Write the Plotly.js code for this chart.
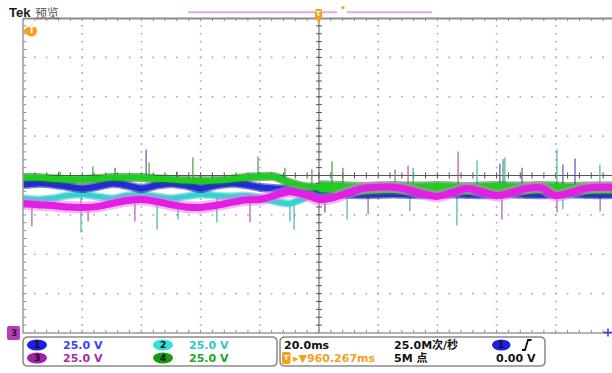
<!DOCTYPE html>
<html>
<head>
<meta charset="utf-8">
<script src="https://cdn.plot.ly/plotly-3.0.1.min.js"></script>
<style>
html,body{margin:0;padding:0;background:#fff;overflow:hidden}
#scope{width:612px;height:373px}
</style>
</head>
<body>
<div id="scope"></div>
<script>
// Acquisition: 20 ms/div horizontally, all channels at 25 V/div.
// Trace levels are given in screen divisions (centre = 0).
const timeMs = [-100,-95,-90,-85,-80,-75,-70,-65,-60,-55,-50,-45,-40,-35,-30,-25,-20,-15,-10,-5,
                0,5,10,15,20,25,30,35,40,45,50,55,60,65,70,75,80,85,90,95,99];

const ch1Div = [-0.23,-0.20,-0.22,-0.28,-0.33,-0.28,-0.20,-0.25,-0.33,-0.25,-0.20,-0.25,-0.33,-0.25,-0.20,-0.23,-0.30,-0.33,-0.36,-0.43,
                -0.48,-0.47,-0.48,-0.49,-0.48,-0.47,-0.48,-0.49,-0.48,-0.47,-0.48,-0.49,-0.48,-0.47,-0.48,-0.49,-0.48,-0.47,-0.48,-0.49,-0.48];

const ch2Div = [-0.58,-0.61,-0.58,-0.51,-0.48,-0.53,-0.58,-0.51,-0.48,-0.53,-0.58,-0.53,-0.48,-0.51,-0.53,-0.51,-0.56,-0.66,-0.71,-0.58,
                -0.41,-0.43,-0.43,-0.42,-0.43,-0.43,-0.42,-0.43,-0.43,-0.42,-0.43,-0.43,-0.42,-0.43,-0.43,-0.42,-0.43,-0.43,-0.42,-0.43,-0.43];

const ch3Div = [-0.71,-0.74,-0.76,-0.80,-0.81,-0.79,-0.71,-0.64,-0.61,-0.66,-0.74,-0.80,-0.81,-0.76,-0.69,-0.62,-0.61,-0.51,-0.41,-0.48,
                -0.61,-0.56,-0.43,-0.33,-0.30,-0.30,-0.36,-0.46,-0.53,-0.43,-0.33,-0.41,-0.51,-0.43,-0.33,-0.31,-0.51,-0.43,-0.33,-0.30,-0.30];

const ch4Div = [-0.05,-0.05,-0.08,-0.10,-0.10,-0.08,-0.05,-0.05,-0.05,-0.08,-0.10,-0.13,-0.13,-0.13,-0.10,-0.05,-0.03,-0.03,-0.18,-0.28,
                -0.30,-0.31,-0.33,-0.34,-0.33,-0.32,-0.33,-0.33,-0.32,-0.33,-0.34,-0.33,-0.32,-0.33,-0.33,-0.32,-0.33,-0.34,-0.33,-0.33,-0.33];

// Glitches riding on the traces: time, start level, end level, channel
const spikeMs   = [-58.4,-57.4,-76.4,-68.9,-42.6,-20.6,-2.4,-48.0,4.4,8.1,30.1,31.8,47.0,53.4,62.2,62.8,61.1,68.6,80.4,82.4,86.5,-87.5,94.9,25.7,-11.5,
                   -97.0,-80.4,-78.0,-62.2,-54.7,-47.6,-34.5,-23.3,-9.8,-8.4,2.0,9.5,16.6,46.6,61.8,80.4,82.4,30.7,95.0];
const spikeFrom = [-0.15,-0.10,-0.10,-0.20,-0.10,-0.05,-0.20,-0.20,-0.30,-0.30,-0.35,-0.35,-0.35,-0.35,-0.30,-0.35,-0.40,-0.40,-0.35,-0.40,-0.40,-0.05,-0.35,-0.30,-0.20,
                   -0.70,-0.55,-0.75,-0.60,-0.55,-0.55,-0.55,-0.60,-0.70,-0.70,-0.50,-0.45,-0.40,-0.50,-0.50,-0.55,-0.50,-0.45,-0.45];
const spikeTo   = [0.66,0.33,0.23,0.20,0.46,0.48,0.15,0.10,0.36,0.20,0.25,0.20,0.61,0.38,0.41,0.46,0.30,0.20,0.66,0.28,0.43,0.10,0.28,0.15,0.20,
                   -1.29,-1.45,-1.17,-1.17,-1.37,-1.12,-1.19,-1.19,-1.17,-1.37,-0.94,-1.12,-0.99,-1.27,-1.12,-0.94,-0.86,-0.91,-0.91];
const spikeCh   = [1,4,4,1,4,4,4,1,4,4,3,2,3,2,4,2,1,1,2,1,1,4,2,4,4,
                   3,2,3,3,2,2,2,3,2,2,1,2,3,2,3,3,2,2,3];

// Read-out panel text
const channelNames = ['1','2','3','4'];
const channelScale = ['25.0 V','25.0 V','25.0 V','25.0 V'];
const timeScale   = '20.0ms';
const sampleRate  = '25.0M次/秒';
const triggerPos  = '960.267ms';
const recordLen   = '5M 点';
const triggerLvl  = '0.00 V';

// Channel colours: trace core, trace edge, glitch, read-out text, badge
const traceColor = {1:'#1f2ed2', 2:'#2fd4d4', 3:'#e41ee4', 4:'#1fcc1f'};
const edgeColor  = {1:'rgba(25,30,150,0.55)', 2:'rgba(60,175,175,0.45)', 3:'rgba(230,120,230,0.5)', 4:'rgba(25,120,25,0.55)'};
const spikeColor = {1:'rgba(80,70,175,0.75)', 2:'rgba(70,175,175,0.8)', 3:'rgba(175,70,175,0.75)', 4:'rgba(70,155,70,0.8)'};
const textColor  = {1:'#3d3dff', 2:'#2fc8c8', 3:'#a52aa5', 4:'#1fa51f'};
const badgeColor = {1:'#1f1fe0', 2:'#35dede', 3:'#a020a8', 4:'#169a16'};
const ORANGE = '#f5a01e';

// Plot-area geometry (pixels)
const W = 612, H = 373, L = 23, T = 18, B = 40;
const PW = W - L, PH = H - T - B;
const X = px => (px - L) / PW;          // pixel -> paper
const Y = py => (H - B - py) / PH;

const traces = [];

// Dotted graticule
const minorX = []; for (let k = -25; k <= 24; k++) minorX.push(k * 4);
const minorY = []; for (let k = -20; k <= 20; k++) minorY.push(+(k * 0.2).toFixed(2));
const gx = [], gy = [];
for (let d = -4; d <= 4; d++) { if (d === 0) continue; minorY.forEach(v => { gx.push(d * 20); gy.push(v); }); }
for (let d = -3; d <= 3; d++) { if (d === 0) continue; minorX.forEach(v => { gx.push(v); gy.push(d); }); }
traces.push({x: gx, y: gy, mode: 'markers', type: 'scatter', hoverinfo: 'skip',
  marker: {symbol: 'square', size: 1.6, color: '#a8a8a8'}});

// Centre cross-hair with minor ticks, plus edge ticks
const cx = [], cy = [];
const seg = (x0, y0, x1, y1) => { cx.push(x0, x1, null); cy.push(y0, y1, null); };
seg(0, -4, 0, 4); seg(-100, 0, 99, 0);
minorY.forEach(v => { seg(-1.0, v, 1.0, v); });
minorX.forEach(v => { seg(v, -0.08, v, 0.08); });
traces.push({x: cx, y: cy, mode: 'lines', type: 'scatter', hoverinfo: 'skip', cliponaxis: false,
  line: {color: '#555', width: 1}});
const ex = [], ey = [];
const eseg = (x0, y0, x1, y1) => { ex.push(x0, x1, null); ey.push(y0, y1, null); };
minorX.forEach(v => { eseg(v, 4, v, 3.92); eseg(v, -4, v, -3.92); });
minorY.forEach(v => { eseg(-100, v, -98.9, v); });
traces.push({x: ex, y: ey, mode: 'lines', type: 'scatter', hoverinfo: 'skip', cliponaxis: false,
  line: {color: '#8a8a8a', width: 1}});

// Glitches
[1, 2, 3, 4].forEach(ch => {
  const sx = [], sy = [];
  spikeMs.forEach((t, i) => { if (spikeCh[i] === ch) { sx.push(t, t, null); sy.push(spikeFrom[i], spikeTo[i], null); } });
  traces.push({x: sx, y: sy, mode: 'lines', type: 'scatter', hoverinfo: 'skip',
    line: {color: spikeColor[ch], width: 1.5}});
});

// Channel traces (drawn as a soft edge under a bright core)
function band(ch, xs, ys, core, edge) {
  traces.push({x: xs, y: ys, mode: 'lines', type: 'scatter', hoverinfo: 'skip',
    line: {color: edgeColor[ch], width: edge, shape: 'spline', smoothing: 0.8}});
  traces.push({x: xs, y: ys, mode: 'lines', type: 'scatter', hoverinfo: 'skip',
    line: {color: traceColor[ch], width: core, shape: 'spline', smoothing: 0.8}});
}
band(2, timeMs, ch2Div, 5, 8);
band(1, timeMs, ch1Div, 6, 9);
const preT = timeMs.filter(t => t <= 0), postT = timeMs.filter(t => t >= 0);
band(4, preT, ch4Div.slice(0, preT.length), 6, 9);
band(4, postT, ch4Div.slice(timeMs.length - postT.length), 10, 14);
band(3, timeMs, ch3Div, 7, 12);

// Decorations and read-outs
const shapes = [], ann = [];
const line = (x0, y0, x1, y1, color, width) => shapes.push({type: 'line', xref: 'paper', yref: 'paper',
  x0: X(x0), y0: Y(y0), x1: X(x1), y1: Y(y1), line: {color, width}});
const poly = (pts, fill) => shapes.push({type: 'path', xref: 'paper', yref: 'paper',
  path: 'M' + pts.map(p => X(p[0]) + ',' + Y(p[1])).join('L') + 'Z', fillcolor: fill, line: {width: 0}});
const ellipse = (x0, y0, x1, y1, fill) => shapes.push({type: 'circle', xref: 'paper', yref: 'paper',
  x0: X(x0), y0: Y(y0), x1: X(x1), y1: Y(y1), fillcolor: fill, line: {width: 0}});
function roundRect(x0, y0, x1, y1, r, stroke, fill) {
  const p = (x, y) => X(x) + ',' + Y(y);
  const path = 'M' + p(x0 + r, y0) + 'L' + p(x1 - r, y0) + 'Q' + p(x1, y0) + ' ' + p(x1, y0 + r) +
    'L' + p(x1, y1 - r) + 'Q' + p(x1, y1) + ' ' + p(x1 - r, y1) + 'L' + p(x0 + r, y1) +
    'Q' + p(x0, y1) + ' ' + p(x0, y1 - r) + 'L' + p(x0, y0 + r) + 'Q' + p(x0, y0) + ' ' + p(x0 + r, y0) + 'Z';
  shapes.push({type: 'path', xref: 'paper', yref: 'paper', path,
    fillcolor: fill || 'rgba(0,0,0,0)', line: {color: stroke || 'rgba(0,0,0,0)', width: stroke ? 1.5 : 0}});
}
const text = (str, px, py, opts) => ann.push(Object.assign({text: str, xref: 'paper', yref: 'paper',
  x: X(px), y: Y(py), xanchor: 'left', yanchor: 'middle', showarrow: false,
  font: {family: 'DejaVu Sans', size: 11, color: '#111', weight: 'bold'}}, opts || {}));

// Graticule frame
line(23, 18.5, 612, 18.5, '#8c8c8c', 2);
line(23, 18, 23, 333.5, '#9a9a9a', 1.5);
line(23, 333, 612, 333, '#9a9a9a', 1.5);

// Header
text('Tek', 7, 12.5, {font: {family: 'Liberation Sans', size: 13, color: '#1a1a1a', weight: 'bold'}});
text('预览', 33, 12.5, {font: {family: 'Noto Sans CJK SC', size: 12, color: '#555'}});
line(188, 12.3, 337, 12.3, '#e6a6e6', 2);
line(347, 12.3, 432, 12.3, '#e6a6e6', 2);
ellipse(341.5, 6, 344.5, 9, ORANGE);
// Trigger position marker
roundRect(315, 9, 322, 19, 1.5, null, ORANGE);
poly([[315, 18], [322, 18], [318.5, 22.5]], ORANGE);
text('T', 318.5, 14, {xanchor: 'center', font: {family: 'DejaVu Sans', size: 7, color: '#fff', weight: 'bold'}});
// Trigger level marker
ellipse(26, 25.5, 37, 36.5, ORANGE);
poly([[27, 27.5], [22.5, 31], [27, 34.5]], ORANGE);
text('T', 31.5, 31, {xanchor: 'center', font: {family: 'DejaVu Sans', size: 8, color: '#fff', weight: 'bold'}});
// Channel 3 ground marker and channel 1 edge marker
roundRect(7, 326, 20, 340, 2, null, '#b83cb8');
text('3', 13.5, 333, {xanchor: 'center', font: {family: 'DejaVu Sans', size: 9, color: '#3a0a3a', weight: 'bold'}});
line(603.5, 332.5, 612, 332.5, '#2a3bff', 1.5);
line(608, 328.5, 608, 336.5, '#2a3bff', 1.5);

// Channel read-out box
roundRect(23, 337, 277, 366, 5, '#8a8a8a', '#fff');
const rowY = [345, 358];
const colX = [37, 163];
[[0, 0, 0], [1, 0, 1], [2, 1, 0], [3, 1, 1]].forEach(([i, r, c]) => {
  const ch = i + 1;
  ellipse(colX[c] - 10, rowY[r] - 5.5, colX[c] + 10, rowY[r] + 5.5, badgeColor[ch]);
  text(channelNames[i], colX[c], rowY[r], {xanchor: 'center', font: {family: 'DejaVu Sans', size: 9, color: '#111', weight: 'bold'}});
  text(channelScale[i], colX[c] + 24, rowY[r], {font: {family: 'DejaVu Sans', size: 11, color: textColor[ch], weight: 'bold'}});
});

// Horizontal / trigger read-out box
roundRect(280, 337, 545, 366, 5, '#8a8a8a', '#fff');
text(timeScale, 282, rowY[0]);
text(sampleRate, 392, rowY[0], {font: {family: 'DejaVu Sans, Noto Sans CJK SC', size: 11, color: '#111', weight: 'bold'}});
ellipse(492, rowY[0] - 5.5, 510.5, rowY[0] + 5.5, badgeColor[1]);
text('1', 501.2, rowY[0], {xanchor: 'center', font: {family: 'DejaVu Sans', size: 9, color: '#111', weight: 'bold'}});
shapes.push({type: 'path', xref: 'paper', yref: 'paper',
  path: 'M' + X(522) + ',' + Y(350) + 'L' + X(525) + ',' + Y(350) + 'L' + X(528) + ',' + Y(340) + 'L' + X(531.5) + ',' + Y(340),
  line: {color: '#111', width: 1.8}});
roundRect(282, 352, 290.5, 364, 1.5, null, ORANGE);
text('T', 286.2, 358, {xanchor: 'center', font: {family: 'DejaVu Sans', size: 7, color: '#fff', weight: 'bold'}});
text('▸▼' + triggerPos, 291, rowY[1], {font: {family: 'DejaVu Sans', size: 11, color: ORANGE, weight: 'bold'}});
text(recordLen, 392, rowY[1], {font: {family: 'DejaVu Sans, Noto Sans CJK SC', size: 11, color: '#111', weight: 'bold'}});
text(triggerLvl, 538, rowY[1], {xanchor: 'right'});

const layout = {
  width: W, height: H,
  margin: {l: L, r: 0, t: T, b: B, pad: 0},
  paper_bgcolor: '#fff', plot_bgcolor: '#fff',
  showlegend: false, hovermode: false,
  xaxis: {range: [-100, 99], visible: false, fixedrange: true},
  yaxis: {range: [-4, 4], visible: false, fixedrange: true},
  shapes, annotations: ann
};
Plotly.newPlot('scope', traces, layout, {staticPlot: true, displayModeBar: false});
</script>
</body>
</html>
